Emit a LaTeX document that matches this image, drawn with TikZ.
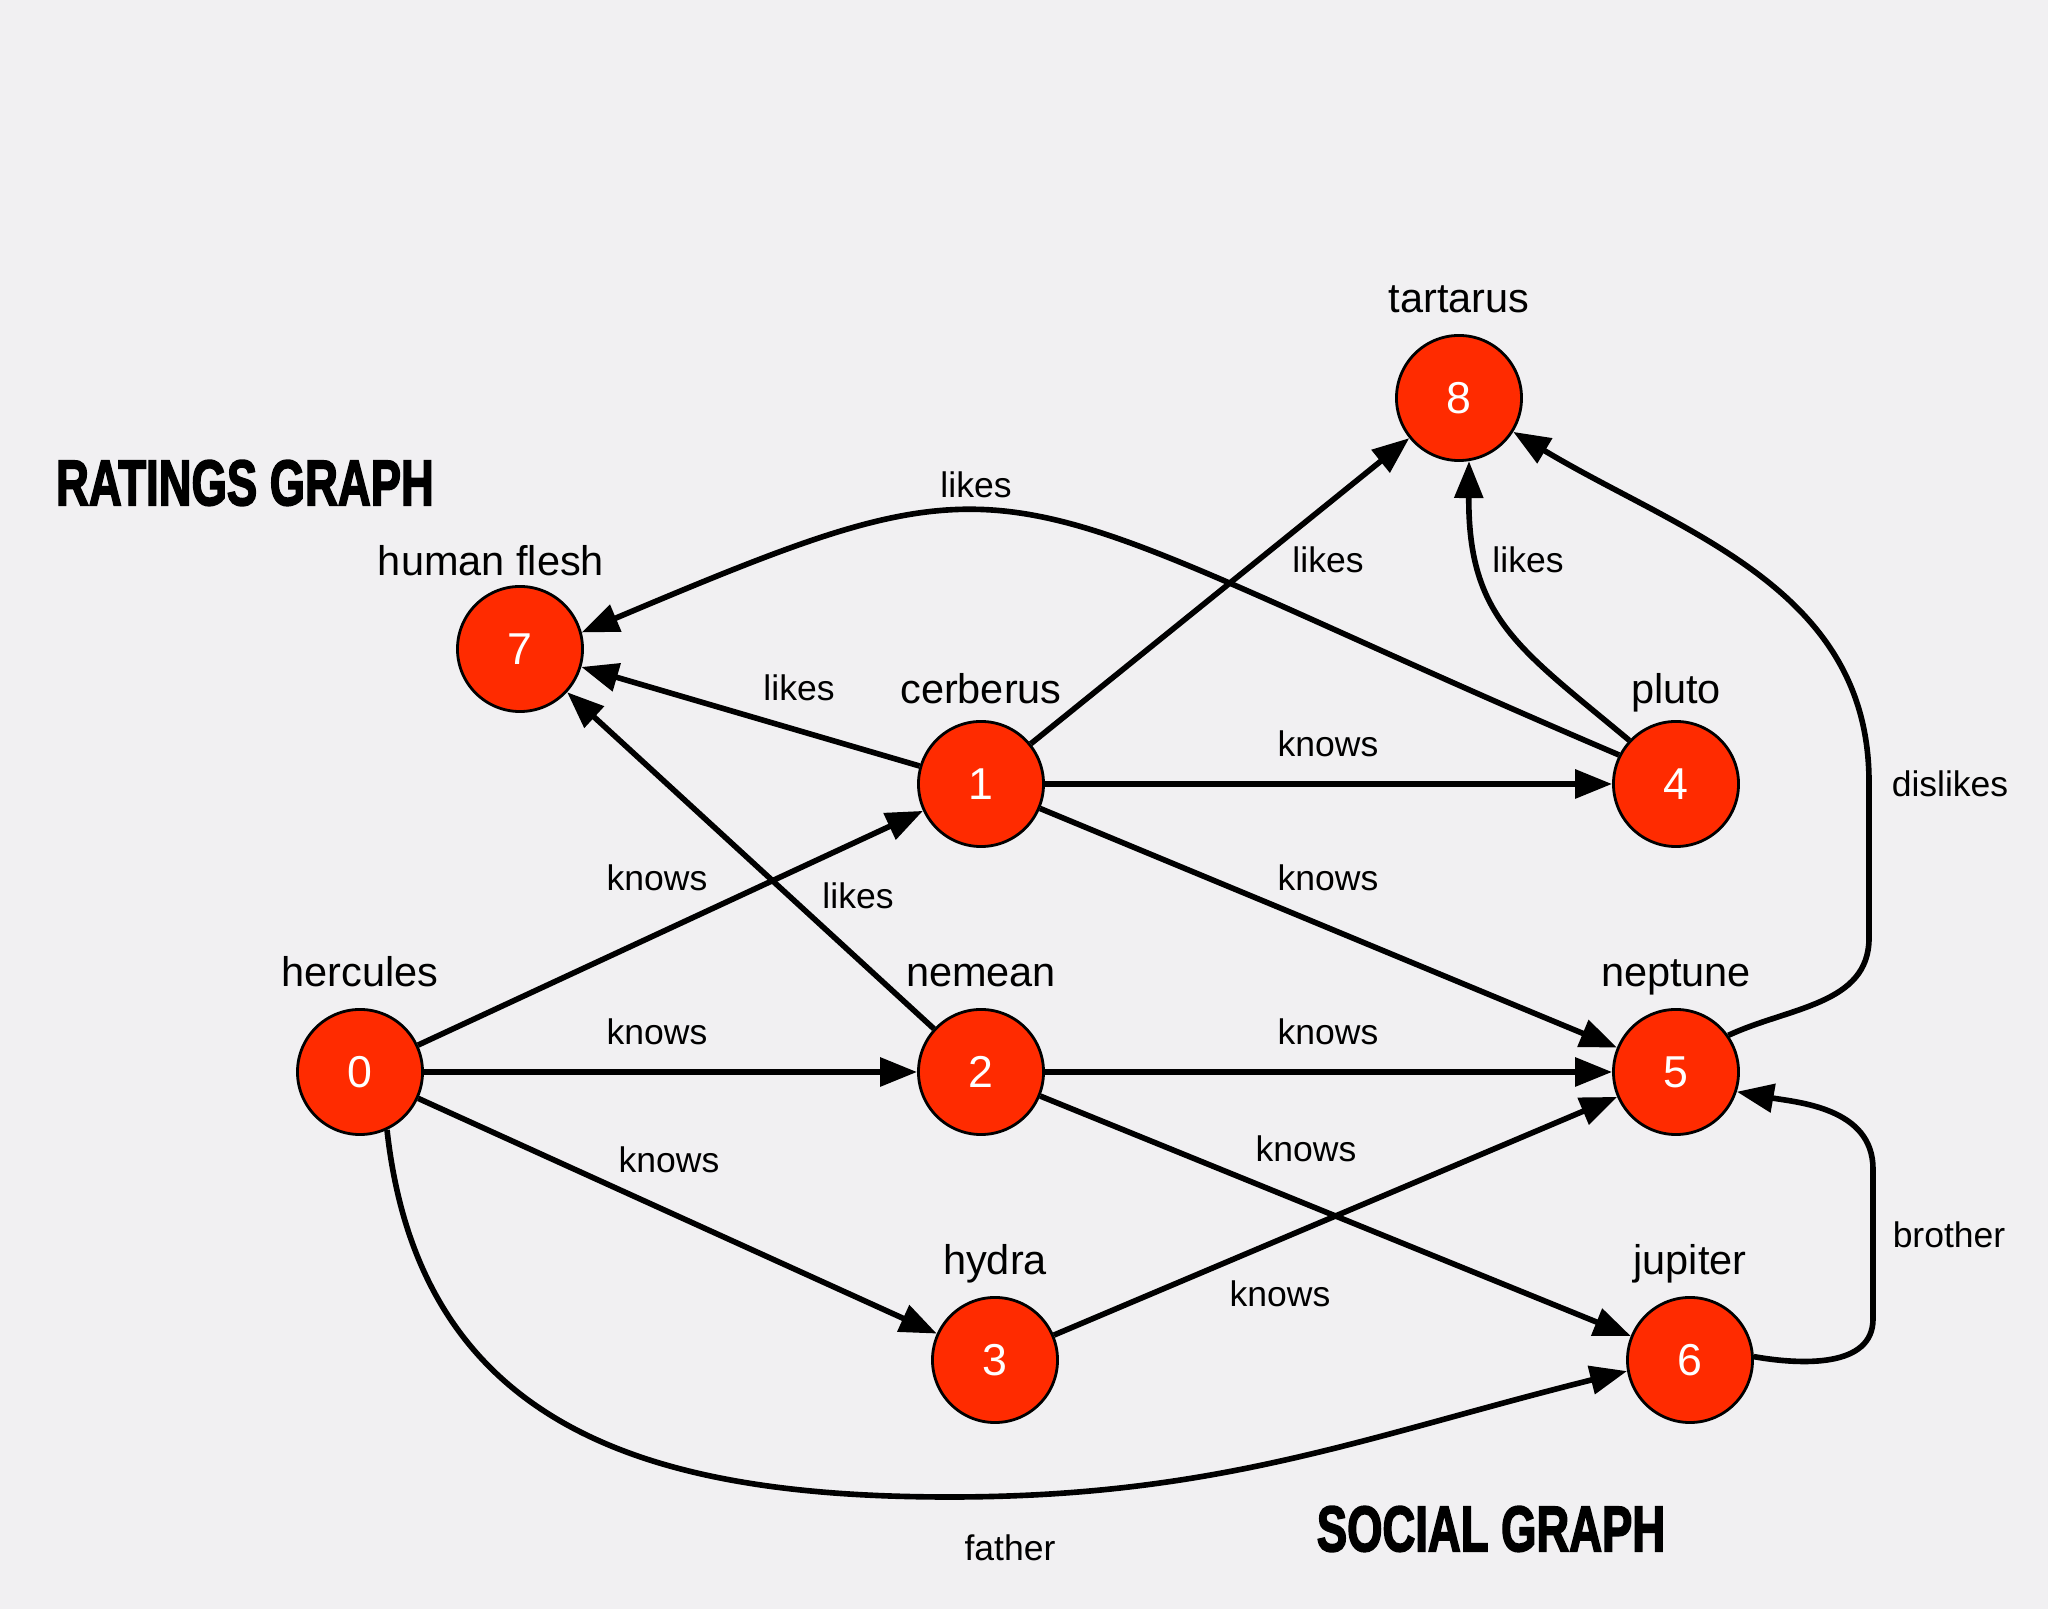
\documentclass[tikz,border=0pt]{standalone}
\usepackage{fontspec}
\setmainfont{Liberation Sans}
\newfontfamily\titlefont{Liberation Sans}[BoldFeatures={FakeBold=3}]
\usetikzlibrary{arrows.meta,positioning}
\definecolor{bgcol}{HTML}{F1F0F2}
\definecolor{vertexred}{HTML}{FF2B00}
\newcommand{\gtitle}[1]{\scalebox{0.85}[1.2]{\fontsize{15.2pt}{18pt}\titlefont\bfseries #1}}

\begin{document}
\begin{tikzpicture}[x=0.01cm,y=0.01cm,
    vertex/.style={circle,draw=black,line width=0.8pt,fill=vertexred,minimum size=1.25cm,inner sep=0pt,text=white,font=\fontsize{12.7pt}{15pt}\selectfont},
    vname/.style={inner sep=0pt,text depth=0pt,font=\fontsize{11.8pt}{14pt}\selectfont},
    elabel/.style={inner sep=0pt,font=\fontsize{10.1pt}{12pt}\selectfont},
    link/.style={-{Triangle[length=10.5pt,width=8pt]},line width=1.6pt}]
  \fill[bgcol] (0,0) rectangle (2048,1609);

  % vertices
  \node[vertex] (n0) at (360,537) {0};
  \node[vertex] (n1) at (981,825) {1};
  \node[vertex] (n2) at (981,537) {2};
  \node[vertex] (n3) at (995,249) {3};
  \node[vertex] (n4) at (1676,825) {4};
  \node[vertex] (n5) at (1676,537) {5};
  \node[vertex] (n6) at (1690,249) {6};
  \node[vertex] (n7) at (520,960) {7};
  \node[vertex] (n8) at (1459,1211) {8};

  \node[vname, above=0.21cm of n0] (t0) {hercules};
  \node[vname, above=0.16cm of n1] (t1) {cerberus};
  \node[vname, above=0.21cm of n2] (t2) {nemean};
  \node[vname, above=0.21cm of n3] (t3) {hydra};
  \node[vname, above=0.16cm of n4] (t4) {pluto};
  \node[vname, above=0.21cm of n5] (t5) {neptune};
  \node[vname, above=0.21cm of n6] (t6) {jupiter};
  \node[vname, above=0.09cm of n7, xshift=-0.29cm] (t7) {human flesh};
  \node[vname, above=0.21cm of n8] (t8) {tartarus};

  \coordinate (d1) at (1869,671);
  \coordinate (d2) at (1869,827);
  \coordinate (b1) at (1873,290);
  \coordinate (b2) at (1873,440);
  \coordinate (fbot) at (950,112);

  % edges
  \draw[link] (n0) -- (n1);
  \draw[link] (n0) -- (n2);
  \draw[link] (n0) -- (n3);
  \draw[link] (n1) -- (n4);
  \draw[link] (n1) -- (n5);
  \draw[link] (n2) -- (n5);
  \draw[link] (n2) -- (n6);
  \draw[link] (n3) -- (n5);
  \draw[link] (n1) -- (n7);
  \draw[link] (n2) -- (n7);
  \draw[link] (n1) -- (n8);
  \draw[link] (n4.153) .. controls (976,1128) and (1045,1172) .. (n7.15);
  \draw[link] (n4.137) .. controls (1520,960) and (1468,990) .. (n8.-81);
  \draw[link] (n5.35) to[out=25,in=-90] (d1) -- (d2) to[out=90,in=-31] (n8.-32);
  \draw[link] (n6.3) to[out=-10,in=-90] (b1) -- (b2) to[out=90,in=-10] (n5.-18);
  \draw[link] (n0.-65) .. controls (420,180) and (650,112) .. (fbot) to[out=0,in=194] (n6.190);

  % edge labels
  \node[elabel] (l47) at (976,1124) {likes};
  \node[elabel] (l18) at (1328,1049) {likes};
  \node[elabel] (l48) at (1528,1049) {likes};
  \node[elabel] (l17) at (799,921) {likes};
  \node[elabel] (l27) at (858,713) {likes};
  \node[elabel] (k14) at (1328,865) {knows};
  \node[elabel] (k01) at (657,731) {knows};
  \node[elabel] (k15) at (1328,731) {knows};
  \node[elabel] (k02) at (657,577) {knows};
  \node[elabel] (k25) at (1328,577) {knows};
  \node[elabel] (k03) at (669,449) {knows};
  \node[elabel] (k26) at (1306,460) {knows};
  \node[elabel] (k35) at (1280,315) {knows};
  \node[elabel] (dis) at (1950,825) {dislikes};
  \node[elabel] (bro) at (1949,374) {brother};
  \node[elabel] (fat) at (1010,61) {father};

  % titles
  \node (ratings) at (245,1126) {\gtitle{RATINGS GRAPH}};
  \node (social) at (1491,80) {\gtitle{SOCIAL GRAPH}};
\end{tikzpicture}
\end{document}
